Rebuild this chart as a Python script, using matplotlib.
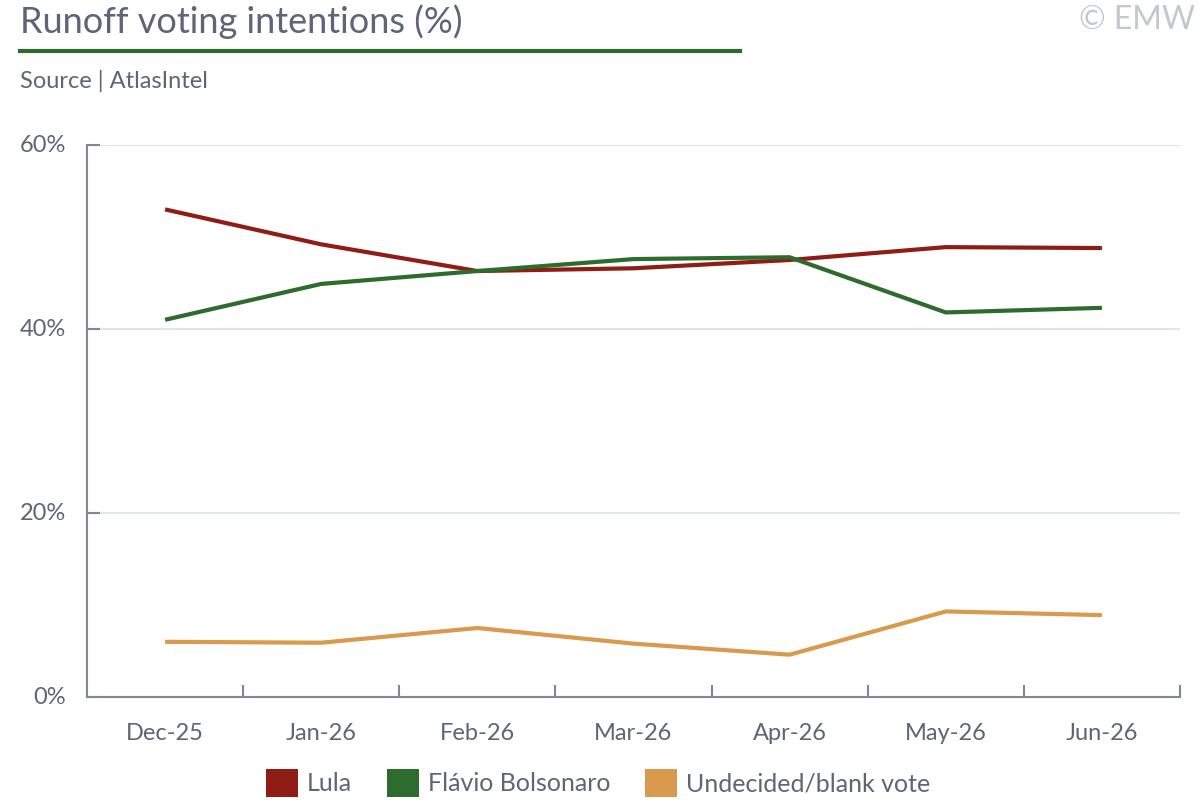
import matplotlib
matplotlib.use('Agg')
import matplotlib.pyplot as plt
from matplotlib.patches import Patch
from matplotlib.lines import Line2D

plt.rcParams['font.family'] = ['Lato', 'DejaVu Sans']

# data
months = ['Dec-25', 'Jan-26', 'Feb-26', 'Mar-26', 'Apr-26', 'May-26', 'Jun-26']
lula = [53.0, 49.2, 46.3, 46.6, 47.5, 48.9, 48.8]
flavio = [41.0, 44.9, 46.3, 47.6, 47.8, 41.8, 42.3]
undecided = [6.0, 5.9, 7.5, 5.8, 4.6, 9.3, 8.9]
series_names = ['Lula', 'Flávio Bolsonaro', 'Undecided/blank vote']

c_lula = '#8f1d15'
c_flavio = '#2e6b2e'
c_und = '#d99a4e'
c_text = '#5f6478'
c_axis = '#7f8799'
c_grid = '#dde6f0'

fig = plt.figure(figsize=(12, 8), dpi=100)
ax = fig.add_axes([87/1200, 1-697/800, (1180-87)/1200, (697-145)/800])

x = list(range(len(months)))
ax.plot(x, lula, color=c_lula, lw=3, solid_capstyle='butt', zorder=3)
ax.plot(x, flavio, color=c_flavio, lw=3, solid_capstyle='butt', zorder=3)
ax.plot(x, undecided, color=c_und, lw=3, solid_capstyle='butt', zorder=3)

ax.set_xlim(-0.5, len(months) - 0.5)
ax.set_ylim(0, 60)
ax.set_yticks([0, 20, 40, 60])
ax.set_yticklabels(['0%', '20%', '40%', '60%'])
ax.set_xticks(x)
ax.set_xticklabels(months)
ax.set_xticks([i + 0.5 for i in x], minor=True)

ax.grid(axis='y', color=c_grid, lw=1.5, zorder=0)
for s in ['top', 'right']:
    ax.spines[s].set_visible(False)
for s in ['left', 'bottom']:
    ax.spines[s].set_color(c_axis)
    ax.spines[s].set_linewidth(1.5)

ax.tick_params(axis='y', direction='in', length=9, width=1.5, color=c_axis,
               labelcolor=c_text, labelsize=17, pad=15)
ax.tick_params(axis='x', which='major', length=0, labelcolor=c_text,
               labelsize=17, pad=19)
ax.tick_params(axis='x', which='minor', direction='in', length=9, width=1.5,
               color=c_axis)
for lab in ax.get_yticklabels():
    lab.set_verticalalignment('center')

# title, rule, source, credit
fig.text(20/1200, 1-22/800, 'Runoff voting intentions (%)', fontsize=26,
         color=c_text, va='center', ha='left')
fig.add_artist(Line2D([20/1200, 740/1200], [1-51/800, 1-51/800],
                      color=c_flavio, lw=3, transform=fig.transFigure))
fig.text(20/1200, 1-81/800, 'Source | AtlasIntel', fontsize=17,
         color=c_text, va='center', ha='left')
fig.text(1195/1200, 1-20/800, '© EMW', fontsize=23, color='#c3c7cf',
         va='center', ha='right')

handles = [Patch(facecolor=c, edgecolor='none') for c in (c_lula, c_flavio, c_und)]
fig.legend(handles, series_names, loc='center', bbox_to_anchor=(598/1200, 1-783/800),
           ncol=3, frameon=False, fontsize=18, labelcolor=c_text,
           handlelength=1.28, handleheight=1.35, handletextpad=0.35,
           columnspacing=1.4, borderpad=0)

fig.savefig('out.png', dpi=100)
